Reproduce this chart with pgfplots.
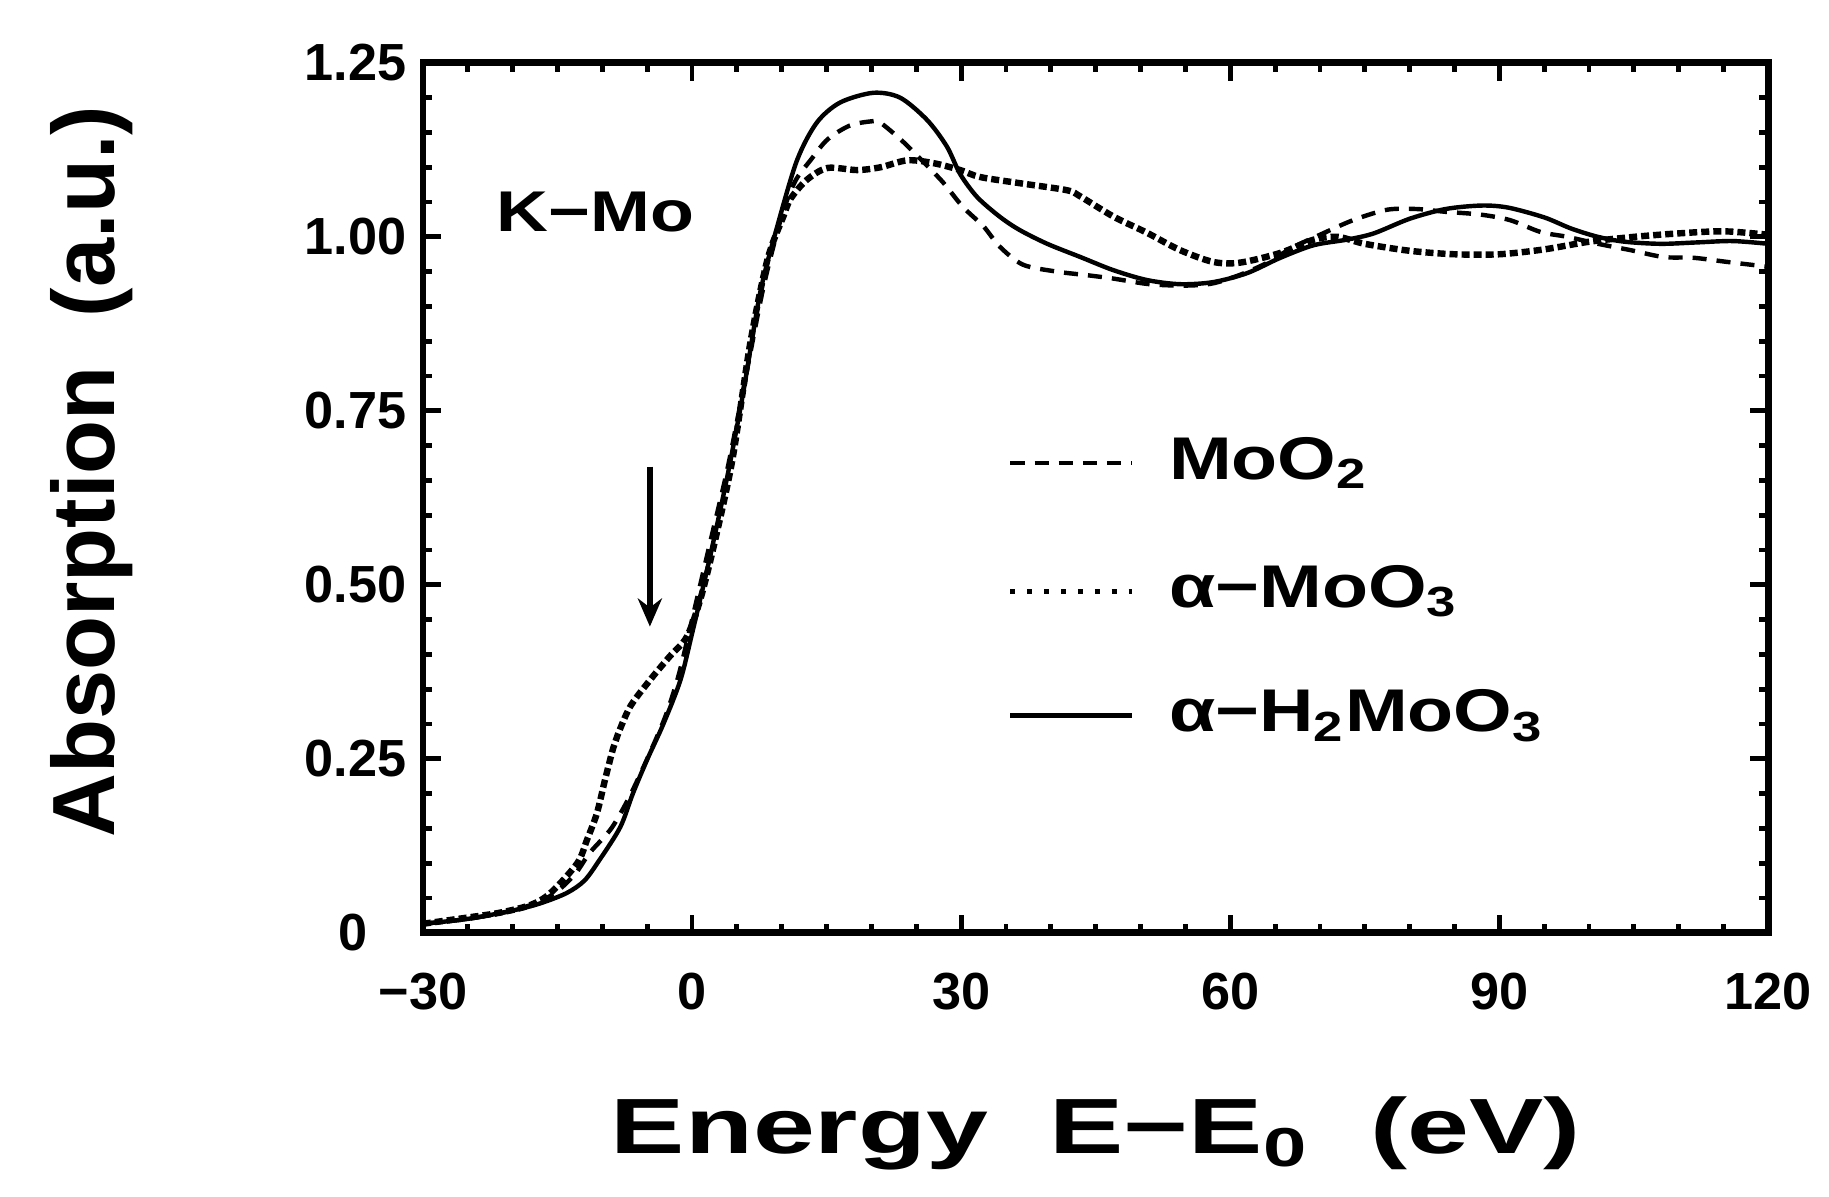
\documentclass[border=0pt]{standalone}
\usepackage{fontspec}
\setmainfont{Liberation Sans}[FakeStretch=1.25]
\newfontfamily\plainfont{Liberation Sans}
\newfontfamily\widefont{Liberation Sans}[FakeStretch=1.42]
\usepackage{pgfplots}
\pgfplotsset{compat=1.18}
\usetikzlibrary{arrows.meta}

\begin{document}
\begin{tikzpicture}
\useasboundingbox (-3.70,-2.31) rectangle (12.30,8.16);
\begin{axis}[
  scale only axis,
  width=11.77cm, height=7.61cm,
  xmin=-30, xmax=120, ymin=0, ymax=1.25,
  xtick={-30,0,30,60,90,120},
  xticklabels={−30,0,30,60,90,120},
  ytick={0,0.25,0.5,0.75,1,1.25},
  yticklabels={0\kern0.34cm,0.25,0.50,0.75,1.00,1.25},
  minor x tick num=5,
  minor y tick num=4,
  major tick length=0.16cm,
  minor tick length=0.08cm,
  axis line style={line width=1.7pt},
  every tick/.style={black, line width=1.2pt},
  tick label style={font=\plainfont\bfseries\fontsize{13}{15}\selectfont, inner sep=0pt},
  xticklabel style={anchor=center, yshift=-0.51cm},
  yticklabel style={anchor=east, xshift=-0.14cm},
  xlabel={Energy\ \ E−E\textsubscript{0}\ \ (eV)},
  xlabel style={font=\widefont\bfseries\fontsize{19.5}{23}\selectfont, at={(axis description cs:0.5,-0.231)}, anchor=center},
  ylabel={Absorption\ \ (a.u.)},
  ylabel style={font=\plainfont\bfseries\fontsize{22}{26}\selectfont, at={(axis description cs:-0.246,0.53)}, anchor=center},
]
% MoO2 (dashed)
\addplot[black, line width=1.1pt, dash pattern=on 3.5pt off 2.5pt, smooth, tension=0.5] coordinates {
(-30,0.013) (-25,0.02) (-20,0.032) (-17,0.045) (-15,0.06) (-13,0.085) (-11.4,0.115)
(-9,0.15) (-7,0.195) (-5,0.25) (-3,0.31) (-1.5,0.37) (0,0.45) (2,0.56) (4,0.67)
(6,0.8) (8,0.93) (10,1.03) (11.5,1.08) (13.2,1.11) (15.1,1.14) (17.6,1.16) (20,1.166)
(21,1.164) (23.5,1.137) (26,1.105) (28,1.078) (30.2,1.043) (32.5,1.015) (34.3,0.986)
(36.9,0.96) (40.7,0.95) (44,0.945) (47,0.94) (51,0.932) (55,0.93) (58,0.933) (61,0.945)
(64,0.962) (67,0.985) (70,1.003) (73.7,1.024) (77.5,1.039) (80.8,1.04) (84,1.036)
(87.9,1.032) (91.2,1.024) (94.6,1.007) (97.6,1.0) (101,0.99) (104.6,0.981) (108.3,0.971)
(111.6,0.97) (115.4,0.964) (120,0.957)
};
% alpha-MoO3 (dotted)
\addplot[black, line width=1.6pt, dash pattern=on 2pt off 1pt, smooth, tension=0.5] coordinates {
(-30,0.013) (-25,0.022) (-21.4,0.029) (-18,0.04) (-15.8,0.057) (-12.8,0.10) (-11.7,0.134)
(-10.6,0.172) (-9.7,0.22) (-8.8,0.265) (-8.3,0.284) (-6.9,0.325) (-4.7,0.363) (-2.5,0.397)
(-0.6,0.425) (0.9,0.478) (2.5,0.56) (4.5,0.68) (6.5,0.848) (8.4,0.967) (10.2,1.03)
(11,1.055) (12.8,1.082) (15.1,1.099) (18.4,1.096) (21,1.10) (24,1.11) (26.9,1.106)
(29.9,1.096) (32.1,1.086) (36.6,1.077) (41.8,1.067) (43.3,1.058) (47,1.029) (50.7,1.006)
(54.4,0.981) (58.1,0.964) (61.1,0.963) (65.6,0.977) (69.3,0.996) (72,1.0) (75,0.99)
(80,0.98) (85,0.975) (90,0.975) (95,0.982) (100,0.993) (105,1.0) (110,1.005)
(115,1.008) (120,1.003)
};
% alpha-H2MoO3 (solid)
\addplot[black, line width=1.1pt, smooth, tension=0.5] coordinates {
(-30,0.013) (-25,0.02) (-20,0.032) (-17,0.042) (-14,0.057) (-12,0.075) (-10.3,0.105)
(-8,0.152) (-6.6,0.20) (-5,0.249) (-3.2,0.30) (-1.3,0.363) (0,0.43) (2,0.54) (4,0.66)
(5.7,0.776) (7.6,0.92) (9.5,1.015) (11.7,1.11) (13.9,1.164) (16.5,1.193) (20.2,1.207)
(23.2,1.20) (26.2,1.168) (28.4,1.13) (29.9,1.09) (31.8,1.057) (34.3,1.029) (36.5,1.010)
(39.6,0.990) (43.3,0.971) (47,0.952) (50.7,0.938) (54.4,0.932) (58.1,0.935) (61.9,0.948)
(65.6,0.970) (69.3,0.988) (73,0.996) (76,1.005) (80,1.026) (84,1.040) (88,1.045)
(91,1.042) (95,1.028) (98,1.012) (101,1.0) (104,0.993) (108,0.99) (112,0.992)
(116,0.994) (120,0.99)
};
% legend samples
\addplot[black, line width=1.1pt, dash pattern=on 3.5pt off 2.5pt, forget plot] coordinates {(35.5,0.675) (49.1,0.675)};
\addplot[black, line width=1.2pt, dash pattern=on 1.2pt off 3pt, forget plot] coordinates {(35.5,0.491) (49.1,0.491)};
\addplot[black, line width=1.1pt, forget plot] coordinates {(35.5,0.312) (49.1,0.312)};
\node[anchor=west, font=\bfseries\fontsize{15}{18}\selectfont] at (axis cs:51.6,0.675) {MoO\textsubscript{2}};
\node[anchor=west, font=\bfseries\fontsize{15}{18}\selectfont] at (axis cs:51.6,0.491) {α−MoO\textsubscript{3}};
\node[anchor=west, font=\bfseries\fontsize{15}{18}\selectfont] at (axis cs:51.6,0.312) {α−H\textsubscript{2}MoO\textsubscript{3}};
\node[font=\bfseries\fontsize{14.3}{17}\selectfont] at (axis cs:-10.8,1.036) {K−Mo};
\draw[line width=1.5pt, -{Stealth[length=7pt, width=6pt]}] (axis cs:-4.7,0.67) -- (axis cs:-4.7,0.44);
\end{axis}
\end{tikzpicture}
\end{document}
